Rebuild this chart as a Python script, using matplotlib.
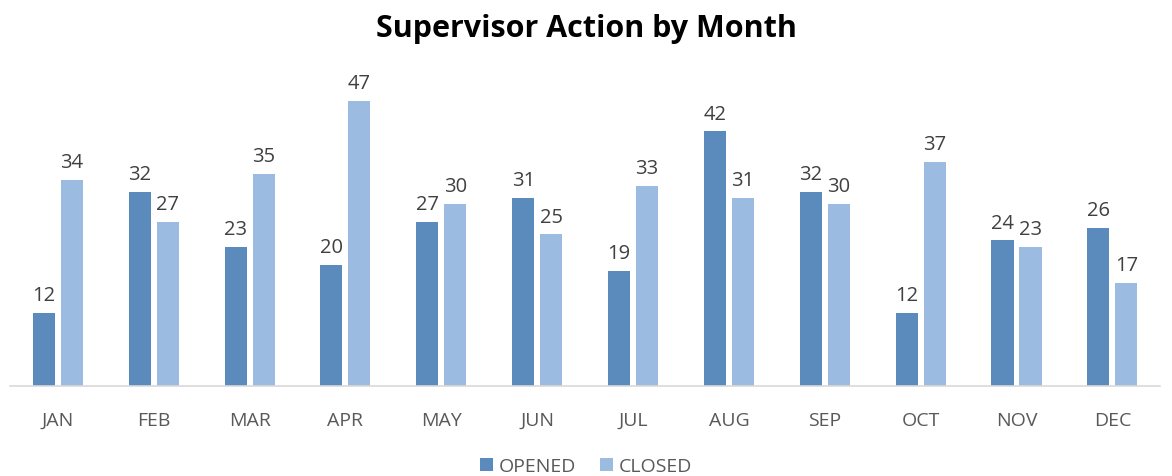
import matplotlib
matplotlib.use("Agg")
import matplotlib.pyplot as plt
import numpy as np

plt.rcParams['font.family'] = ['Open Sans', 'DejaVu Sans']

months = ["JAN", "FEB", "MAR", "APR", "MAY", "JUN", "JUL", "AUG", "SEP", "OCT", "NOV", "DEC"]
opened = [12, 32, 23, 20, 27, 31, 19, 42, 32, 12, 24, 26]
closed = [34, 27, 35, 47, 30, 25, 33, 31, 30, 37, 23, 17]

c_open = "#5A8BBC"
c_close = "#9CBBE0"

fig = plt.figure(figsize=(11.72, 4.77), dpi=100)
ax = fig.add_axes([0.0085, 0.189, 0.9815, 0.635])

x = np.arange(len(months))
w = 0.23
off = 0.146
b1 = ax.bar(x - off, opened, w, color=c_open, label="OPENED")
b2 = ax.bar(x + off, closed, w, color=c_close, label="CLOSED")

for bars, vals in ((b1, opened), (b2, closed)):
    for r, v in zip(bars, vals):
        ax.text(r.get_x() + r.get_width() / 2, v + 1.3, str(v), ha="center", va="bottom",
                fontsize=14.5, color="#404040")

ax.set_xlim(-0.5, len(months) - 0.5)
ax.set_ylim(0, 50)
ax.set_yticks([])
ax.set_xticks(x)
ax.set_xticklabels(months, fontsize=14, color="#595959")
ax.tick_params(axis="x", length=0, pad=18)
for s in ("top", "right", "left"):
    ax.spines[s].set_visible(False)
ax.spines["bottom"].set_color("#D9D9D9")
ax.spines["bottom"].set_linewidth(1.2)

fig.suptitle("Supervisor Action by Month", fontsize=22, fontweight="bold", y=0.97, color="#000000")

fig.legend(handles=[b1, b2], labels=["OPENED", "CLOSED"], loc="center", bbox_to_anchor=(0.5, 0.02),
           ncol=2, frameon=False, fontsize=14, handlelength=0.7, handleheight=0.7,
           handletextpad=0.3, columnspacing=1.2, labelcolor="#595959")

fig.savefig("out.png", dpi=100)
